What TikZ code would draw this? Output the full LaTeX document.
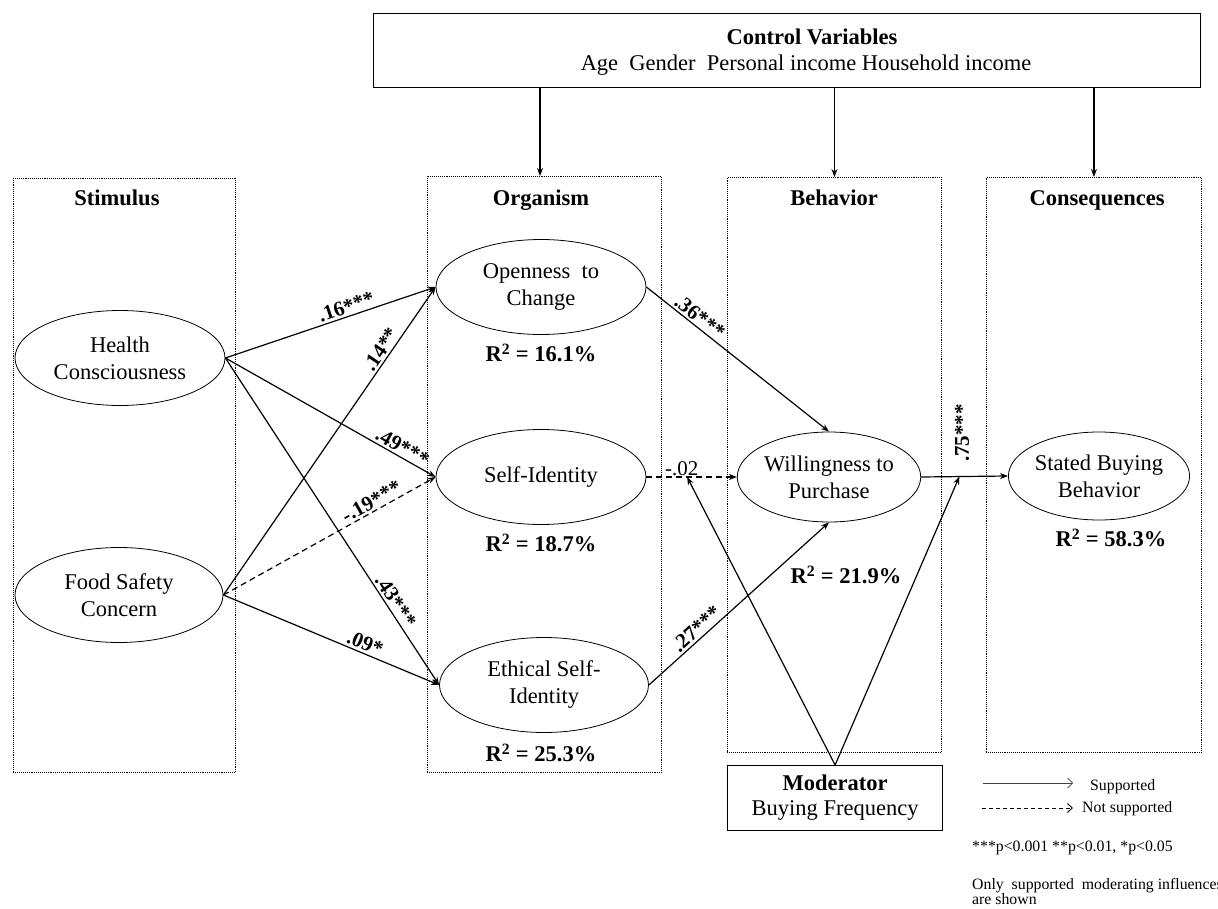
\documentclass[tikz,border=0pt]{standalone}
\usepackage{fontspec}
\setmainfont{Liberation Serif}
\usetikzlibrary{shapes.geometric,arrows.meta}
\newcommand\mainfs{\fontsize{22.5}{27}\selectfont}
\newcommand\lblfs{\fontsize{21}{24}\selectfont}
\newcommand\legfs{\fontsize{15.8}{18}\selectfont}
\begin{document}
\begin{tikzpicture}[x=1pt,y=-1pt,
  ell/.style={draw, line width=0.8pt, ellipse, inner sep=0pt, align=center, font=\mainfs, minimum width=210pt, minimum height=95pt},
  grp/.style={draw, densely dotted, line width=0.9pt, anchor=north west, inner sep=0pt},
  ttl/.style={font=\mainfs\bfseries, anchor=base},
  rsq/.style={font=\mainfs\bfseries},
  arr/.style={line width=1.2pt, -{Stealth[length=8pt,width=6pt]}},
  darr/.style={arr, dash pattern=on 6pt off 4pt},
  lbl/.style={font=\lblfs\bfseries, sloped, above, inner sep=2pt},
  legtxt/.style={font=\legfs, anchor=west, inner sep=0pt},
]
\useasboundingbox (0,0) rectangle (1218,909);
\clip (0,0) rectangle (1218,909);

% group boxes
\node[grp, minimum width=222pt, minimum height=594pt] (stim) at (13,178) {};
\node[grp, minimum width=234pt, minimum height=596pt] (org) at (427,176) {};
\node[grp, minimum width=214pt, minimum height=575pt] (beh) at (727,177) {};
\node[grp, minimum width=215pt, minimum height=575pt] (cons) at (986,177) {};

\node[ttl] (tstim) at (117,206) {Stimulus};
\node[ttl] (torg) at (541,206) {Organism};
\node[ttl] (tbeh) at (834,206) {Behavior};
\node[ttl] (tcons) at (1097,206) {Consequences};

% control box
\node[draw, line width=1.2pt, anchor=north west, inner sep=0pt, minimum width=827pt, minimum height=74pt] (ctrl) at (373,13) {};
\node[font=\mainfs\bfseries] (ctitle) at (812,37) {Control Variables};
\node[font=\mainfs] (cvars) at (806,65) {Age\ \ Gender\ \ Personal income Household income};

\coordinate (a1) at (540,176);
\draw[arr] (ctrl.south -| a1) -- (a1);
\draw[arr] (ctrl.south -| beh.north) -- (beh.north);
\draw[arr] (ctrl.south -| cons.north) -- (cons.north);

% constructs
\node[ell] (hc) at (120,358) {Health\\Consciousness};
\node[ell, minimum width=208pt] (fsc) at (119,595) {Food Safety\\Concern};
\node[ell] (oc) at (541,287) {Openness\ \ to\\Change};
\node[ell] (si) at (541,477) {Self-Identity};
\node[ell, minimum width=209pt] (esi) at (544,685) {Ethical Self-\\Identity};
\node[ell, minimum width=178pt, minimum height=90pt] (wtp) at (829,477) {Willingness to\\Purchase};
\node[ell, minimum width=180pt, minimum height=88pt] (sbb) at (1099,476) {Stated Buying\\Behavior};

\node[rsq] (r1) at (541,353) {R\textsuperscript{2} = 16.1\%};
\node[rsq] (r2) at (541,543) {R\textsuperscript{2} = 18.7\%};
\node[rsq] (r3) at (541,753) {R\textsuperscript{2} = 25.3\%};
\node[rsq] (r4) at (846,575) {R\textsuperscript{2} = 21.9\%};
\node[rsq] (r5) at (1111,538) {R\textsuperscript{2} = 58.3\%};

% paths
\draw[arr] (hc.east) -- node[lbl, pos=0.59] {.16***} (oc.west);
\draw[arr] (hc.east) -- node[lbl, pos=0.82] {.49***} (si.west);
\draw[arr] (hc.east) -- node[lbl, pos=0.76] {.43***} (esi.west);
\draw[arr] (fsc.east) -- node[lbl, pos=0.78] {.14**} (oc.west);
\draw[darr] (fsc.east) -- node[lbl, pos=0.72] {-.19***} (si.west);
\draw[arr] (fsc.east) -- node[lbl, pos=0.64] {.09*} (esi.west);
\draw[arr] (oc.east) -- node[lbl, pos=0.26] {.36***} (wtp.north);
\draw[darr] (si.east) -- node[font=\lblfs, above, pos=0.39, inner sep=1pt] {-.02} coordinate[pos=0.45] (m1) (wtp.west);
\draw[arr] (esi.east) -- node[lbl, pos=0.30] {.27***} (wtp.south);
\draw[arr] (wtp.east) -- coordinate[pos=0.44] (m2) (sbb.west);
\node[font=\lblfs\bfseries, rotate=90] (l75) at (962,433) {.75***};

% moderator
\node[draw, line width=1.2pt, anchor=north west, minimum width=215pt, minimum height=65pt, inner sep=0pt, align=center, font=\mainfs] (mod) at (727,765) {\textbf{Moderator}\\[-2pt]Buying Frequency};
\draw[arr] (mod.north) -- (m1);
\draw[arr] (mod.north) -- (m2);

% legend
\coordinate (ls1) at (983,783);
\coordinate (le1) at (1073,783);
\coordinate (ls2) at (982,808);
\coordinate (le2) at (1073,808);
\draw[line width=0.6pt, draw=black!75, -{Straight Barb[length=5pt,width=10pt]}] (ls1) -- (le1);
\draw[line width=0.9pt, dash pattern=on 4pt off 3pt, -{Straight Barb[length=5pt,width=9pt]}] (ls2) -- (le2);
\node[legtxt] (lg1) at (1090,787) {Supported};
\node[legtxt] (lg2) at (1082,809) {Not supported};
\node[legtxt] (lg3) at (972,848) {***p<0.001 **p<0.01, *p<0.05};
\node[legtxt, anchor=north west, align=left] (lg4) at (972,878) {Only\ \ supported\ \ moderating influences\\[-3pt]are shown};
\end{tikzpicture}
\end{document}
